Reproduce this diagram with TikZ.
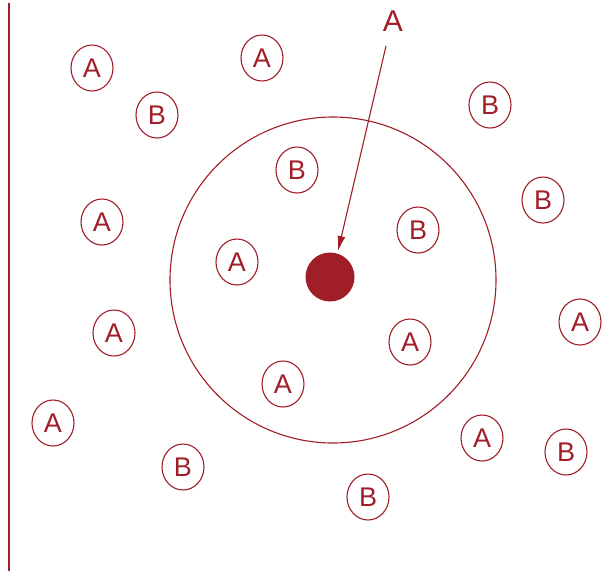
\documentclass[tikz,border=0pt]{standalone}
\usepackage{fontspec}
\setmainfont{Liberation Sans}
\usetikzlibrary{shapes.geometric,arrows.meta}
\definecolor{dred}{HTML}{A01E28}
\begin{document}
\begin{tikzpicture}[x=1pt,y=-1pt,
  mol/.style={draw=dred,line width=1.1pt,ellipse,minimum width=42pt,minimum height=46pt,inner sep=0pt,text=dred,font=\fontsize{27}{27}\selectfont}]
\useasboundingbox (0,0) rectangle (613,573);
\draw[dred,line width=1.3pt] (9,3) -- (9,571);
\draw[dred,line width=1.1pt] (333,280) circle[radius=163];
\node[mol] (a1) at (92,68) {A};
\node[mol] (b1) at (157,115) {B};
\node[mol] (a2) at (262,58) {A};
\node[mol] (b2) at (490,105) {B};
\node[mol] (b3) at (297,170) {B};
\node[mol] (b4) at (543,200) {B};
\node[mol] (a3) at (102,222) {A};
\node[mol] (b5) at (418,230) {B};
\node[mol] (a4) at (237,262) {A};
\node[mol] (a5) at (114,333) {A};
\node[mol] (a6) at (410,342) {A};
\node[mol] (a7) at (580,322) {A};
\node[mol] (a8) at (283,384) {A};
\node[mol] (a9) at (53,423) {A};
\node[mol] (a10) at (482,438) {A};
\node[mol] (b6) at (566,452) {B};
\node[mol] (b7) at (183,467) {B};
\node[mol] (b8) at (368,497) {B};
\node[circle,fill=dred,minimum size=49pt,inner sep=0pt] (dot) at (330,277) {};
\node[text=dred,font=\fontsize{30}{30}\selectfont] (top) at (393,21) {A};
\coordinate (st) at (386,46);
\coordinate (tip) at (338,251);
\draw[dred,line width=1.1pt,-{Latex[length=15pt,width=8pt]}] (st) -- (tip);
\end{tikzpicture}
\end{document}
